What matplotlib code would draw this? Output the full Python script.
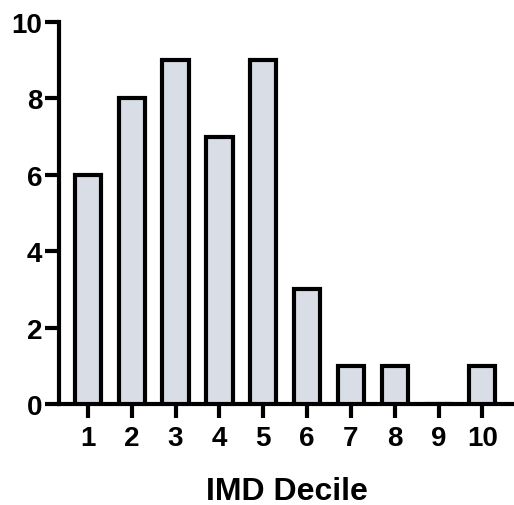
import matplotlib
matplotlib.use("Agg")
import matplotlib.pyplot as plt

categories = ["1", "2", "3", "4", "5", "6", "7", "8", "9", "10"]
values = [6, 8, 9, 7, 9, 3, 1, 1, 0, 1]
yticks = [0, 2, 4, 6, 8, 10]

plt.rcParams['font.family'] = ['Liberation Sans', 'DejaVu Sans']
fig = plt.figure(figsize=(5.14, 5.06), dpi=100)
ax = fig.add_axes([0.1148, 0.1996, 0.885, 0.7549])
x = list(range(1, len(categories) + 1))
ax.bar(x, values, width=0.6, color='#d9dee6', edgecolor='black', linewidth=3, zorder=3)
ax.set_xlim(0.34, 10.72)
ax.set_ylim(0, 10)
ax.set_xticks(x)
ax.set_xticklabels(categories, fontsize=20, fontweight='bold')
ax.set_yticks(yticks)
ax.set_yticklabels([str(t) for t in yticks], fontsize=20, fontweight='bold')
for s in ['top', 'right']:
    ax.spines[s].set_visible(False)
for s in ['left', 'bottom']:
    ax.spines[s].set_linewidth(3)
ax.tick_params(axis='x', length=10, width=3, pad=5)
ax.tick_params(axis='y', length=10, width=3, pad=2)
ax.set_xlabel("IMD Decile", fontsize=23, fontweight='bold', labelpad=18)
fig.savefig("out.png", dpi=100)
